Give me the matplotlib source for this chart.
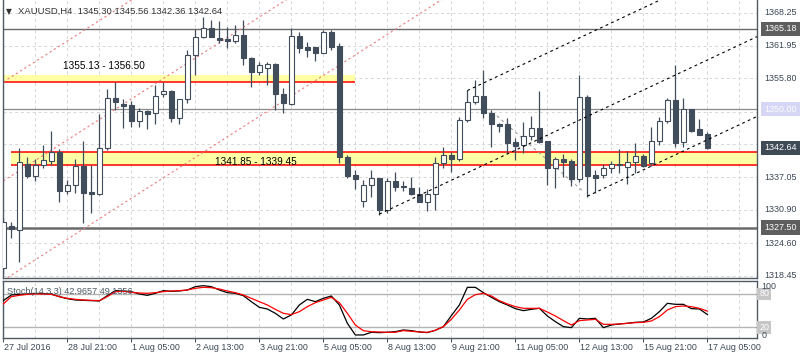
import matplotlib
matplotlib.use('Agg')
import matplotlib.pyplot as plt
from matplotlib.transforms import blended_transform_factory as btf

plt.rcParams['font.family'] = ['Liberation Sans', 'DejaVu Sans']

# ---------------- data ----------------
opens = [1319.9, 1327.8, 1327.1, 1339.5, 1337.4, 1339.4, 1340.2, 1341.8, 1334.5, 1335.7,
         1339.2, 1334.3, 1333.9, 1342.55, 1352.0, 1350.95, 1350.8, 1347.8, 1349.6, 1349.2,
         1352.85, 1353.5, 1348.3, 1351.85, 1360.2, 1363.7, 1365.3, 1363.4, 1363.3, 1362.95,
         1364.0, 1359.6, 1357.1, 1357.8, 1358.5, 1352.85, 1350.95, 1363.8, 1361.7, 1361.7,
         1360.7, 1364.5, 1361.9, 1341.0, 1337.5, 1332.6, 1335.6, 1336.9, 1330.9, 1336.4,
         1335.4, 1335.0, 1334.0, 1332.45, 1333.85, 1339.7, 1341.3, 1340.6, 1347.9, 1351.3,
         1352.5, 1349.2, 1347.2, 1347.2, 1343.7, 1343.2, 1344.95, 1346.35, 1343.9, 1338.8,
         1340.5, 1340.15, 1336.7, 1352.2, 1337.5, 1337.5, 1338.8, 1339.4, 1339.1, 1339.9,
         1341.2, 1339.7, 1343.95, 1347.75, 1351.65, 1343.7, 1350.0, 1346.15, 1345.30]
highs = [1329.4, 1328.6, 1342.7, 1340.9, 1340.5, 1343.2, 1345.85, 1342.4, 1336.55, 1340.5,
         1343.95, 1339.4, 1349.0, 1353.7, 1355.2, 1351.85, 1351.6, 1350.15, 1349.8, 1354.55,
         1355.2, 1353.6, 1351.95, 1361.2, 1365.1, 1367.5, 1366.9, 1366.7, 1365.5, 1365.9,
         1366.9, 1359.9, 1359.0, 1359.0, 1358.8, 1353.9, 1365.3, 1364.65, 1362.75, 1361.8,
         1364.95, 1364.95, 1362.6, 1341.3, 1338.45, 1336.55, 1338.45, 1336.9, 1336.9, 1338.1,
         1336.4, 1337.15, 1335.3, 1334.8, 1341.0, 1342.85, 1341.9, 1348.4, 1353.6, 1355.5,
         1357.4, 1349.8, 1347.3, 1348.25, 1344.45, 1347.6, 1348.65, 1353.5, 1343.9, 1341.0,
         1341.5, 1340.5, 1356.45, 1352.65, 1338.45, 1339.6, 1340.15, 1342.4, 1342.0, 1343.55,
         1341.45, 1346.65, 1348.4, 1352.0, 1358.35, 1352.15, 1350.0, 1348.05, 1345.56]
lows = [1318.8, 1325.6, 1321.0, 1336.9, 1336.4, 1338.8, 1339.4, 1332.45, 1333.9, 1334.1,
        1328.5, 1330.3, 1333.7, 1342.25, 1349.8, 1346.35, 1346.65, 1346.65, 1346.2, 1347.2,
        1352.35, 1347.6, 1347.2, 1351.2, 1356.45, 1363.4, 1363.6, 1362.45, 1361.5, 1362.6,
        1358.3, 1354.2, 1356.45, 1354.55, 1349.8, 1349.2, 1350.8, 1360.55, 1359.9, 1359.15,
        1360.55, 1361.2, 1339.85, 1336.9, 1334.8, 1331.4, 1333.4, 1329.9, 1330.4, 1334.5,
        1334.5, 1333.65, 1332.45, 1330.6, 1330.9, 1338.8, 1338.1, 1340.1, 1347.6, 1350.95,
        1348.3, 1342.9, 1345.7, 1341.7, 1340.35, 1341.7, 1344.15, 1343.5, 1335.6, 1335.0,
        1337.2, 1335.4, 1336.25, 1333.4, 1334.15, 1336.9, 1337.95, 1337.95, 1335.75, 1337.95,
        1339.1, 1339.2, 1343.2, 1347.3, 1342.75, 1342.75, 1345.7, 1345.1, 1342.36]
closes = [1328.6, 1327.2, 1339.9, 1337.4, 1339.4, 1340.35, 1341.8, 1334.5, 1335.7, 1339.2,
          1334.1, 1333.9, 1342.55, 1352.0, 1351.4, 1350.6, 1347.8, 1349.6, 1349.0, 1352.5,
          1353.5, 1348.3, 1351.85, 1360.24, 1363.6, 1365.3, 1363.7, 1363.1, 1362.95, 1364.0,
          1359.6, 1357.1, 1358.3, 1358.5, 1352.85, 1351.2, 1363.8, 1361.5, 1361.2, 1360.7,
          1364.5, 1361.8, 1341.0, 1337.4, 1336.7, 1335.6, 1336.9, 1330.9, 1336.4, 1335.3,
          1335.3, 1333.9, 1332.45, 1333.9, 1339.7, 1341.3, 1340.5, 1347.9, 1351.4, 1352.5,
          1349.2, 1347.1, 1346.7, 1343.5, 1343.05, 1344.95, 1346.35, 1343.8, 1338.8, 1340.5,
          1340.05, 1336.7, 1352.2, 1337.4, 1336.9, 1338.8, 1339.55, 1339.55, 1339.9, 1341.2,
          1339.3, 1343.95, 1347.75, 1351.65, 1343.5, 1349.95, 1345.9, 1345.1, 1342.64]

stoch_k = [68, 78.2, 79.4, 80, 81.2, 80.6, 80, 75.2, 71.6, 69.2,
           68.6, 68, 67.4, 77, 86, 85.4, 84.2, 80, 77.6, 81.2,
           86, 84.8, 85.4, 87.2, 93.2, 95, 93.2, 87.2, 82.4, 81.2,
           77, 66.2, 56, 53, 45.2, 35, 42.2, 60.2, 70.4, 66.2,
           72.2, 76.4, 60.2, 27.2, 6.2, 6.2, 11, 10.4, 11, 12.2,
           15.2, 14, 11.6, 10.4, 14.6, 21.2, 41, 60.2, 92, 92,
           82.4, 74, 66.2, 60.2, 53.6, 50, 52.4, 54.2, 40.4, 30.2,
           21.2, 19.4, 36.2, 35, 36.2, 19.4, 24.2, 26, 27.2, 29,
           29.6, 36.2, 48.2, 63.2, 61.4, 61.4, 53.6, 53, 42.9657]
stoch_d = [62, 75.2, 77.6, 79.4, 80, 80, 79.4, 75.2, 72.2, 70.4,
           69.2, 68.6, 68, 75.2, 84.2, 84.8, 83, 81.8, 81.2, 82.4,
           84.2, 85.4, 86, 87.2, 90.2, 92, 91.4, 89, 85.4, 82.4,
           78.2, 72.2, 66.2, 60.2, 52.4, 45.2, 42.8, 48.2, 57.2, 64.4,
           69.2, 74, 64.4, 45.2, 24.2, 14, 12, 11.6, 11, 11,
           14, 12.8, 11.6, 11, 14.6, 21.2, 34.4, 51.2, 70.4, 78.8,
           81.2, 76.4, 68, 62, 57.2, 54.2, 54.2, 54.2, 47.6, 40.4,
           32, 24.2, 32, 33.2, 34.4, 25.4, 25.4, 26, 27.2, 28.4,
           29, 31.4, 39.2, 51.2, 57.2, 58.4, 57.2, 54.2, 49.1356]

time_labels = ['27 Jul 2016', '28 Jul 21:00', '1 Aug 05:00', '2 Aug 13:00', '3 Aug 21:00',
               '5 Aug 05:00', '8 Aug 13:00', '9 Aug 21:00', '11 Aug 05:00', '12 Aug 13:00',
               '15 Aug 21:00', '17 Aug 05:00']
# price grid levels; the two hidden under the marker boxes are not labelled
price_ticks = [1368.25, 1361.95, 1355.80, 1349.50, 1343.35, 1337.05, 1330.90, 1324.60, 1318.45]
price_labels = ['1368.25', '1361.95', '1355.80', '', '', '1337.05', '1330.90', '1324.60', '1318.45']

# horizontal levels
level_dark = [1365.18, 1327.50]
level_light = 1350.00
last_price = 1342.64
zone_low = (1339.45, 1341.85)
zone_high = (1355.13, 1356.50)
zone_high_end = 44
zone_low_start = 1

# trend-line anchors (bar index, price)
red_channel = [((0, 1355.12), (44, 1397.80)),
               ((0, 1336.38), (44, 1379.06)),
               ((0, 1317.57), (44, 1360.25))]
black_channel = [((58, 1353.5), (88, 1374.86)),
                 ((47, 1330.1), (88, 1359.29)),
                 ((73, 1333.5), (88, 1344.18))]
gray_line = ((61.7, 1348.7), (72.5, 1334.35))

# ---------------- figure ----------------
W, H = 800, 360
fig = plt.figure(figsize=(8, 3.6), dpi=100)
fig.patch.set_facecolor('white')

axl, axr = 2.5, 757.0
ax = fig.add_axes([axl / W, 1 - 278 / H, (axr - axl) / W, 278 / H])
ax2 = fig.add_axes([axl / W, 1 - 338.3 / H, (axr - axl) / W, 57.3 / H])

n = len(opens)
xmin, xmax = -0.1, 94.2
frame_col = '#4f5964'
grid_col = '#d6d6d6'
candle_col = '#414d5a'
text_col = '#3a4654'

for a in (ax, ax2):
    a.set_xlim(xmin, xmax)
    a.set_yticks([])
    for s in a.spines.values():
        s.set_color(frame_col)
        s.set_linewidth(1.0)
    for gx in range(0, 96, 4):
        a.axvline(gx, color=grid_col, lw=0.7, ls=(0, (3, 3)), zorder=0)

ax.set_ylim(1318.0, 1370.65)
ax.spines['top'].set_visible(False)
ax.set_xticks([])

for p in price_ticks:
    ax.axhline(p, color=grid_col, lw=0.7, ls=(0, (3, 3)), zorder=0)

# zones
ax.fill_between([zone_low_start, xmax + 5], zone_low[0], zone_low[1], color='#ffffa6', zorder=1, lw=0)
ax.hlines(list(zone_low), zone_low_start, xmax + 5, color='#ff0000', lw=1.1, zorder=2)
ax.fill_between([xmin, zone_high_end], zone_high[0], zone_high[1], color='#ffffa6', zorder=1, lw=0)
ax.hlines([zone_high[0]], xmin, zone_high_end, color='#ff0000', lw=1.1, zorder=2)
ax.text(7.4, zone_high[1] + 1.7, '1355.13 - 1356.50', fontsize=7.2, color='black', va='center', zorder=6)
ax.text(26.5, zone_low[0] + 0.55, '1341.85 - 1339.45', fontsize=7.2, color='black', va='center', zorder=6)

# horizontal levels
ax.axhline(level_dark[0], color='#6a6a6a', lw=1.0, zorder=2)
ax.axhline(level_dark[1], color='#6a6a6a', lw=1.8, zorder=2)
ax.axhline(level_light, color='#8a8a8a', lw=0.9, zorder=2)

# trend lines
for (x0, y0), (x1, y1) in red_channel:
    s = (y1 - y0) / (x1 - x0)
    ax.plot([x0, 110], [y0, y0 + s * (110 - x0)], color='#ec7b7b', lw=0.8, ls=(0, (2, 2.5)), zorder=2.5)
for (x0, y0), (x1, y1) in black_channel:
    s = (y1 - y0) / (x1 - x0)
    ax.plot([x0, 110], [y0, y0 + s * (110 - x0)], color='black', lw=0.8, ls=(0, (2.5, 3)), zorder=4)
ax.plot([gray_line[0][0], gray_line[1][0]], [gray_line[0][1], gray_line[1][1]],
        color='#9a9a9a', lw=0.8, ls=(0, (2.5, 3)), zorder=2.5)

# candles
idx = list(range(n))
ax.vlines(idx, lows, highs, color=candle_col, lw=0.9, zorder=3)
bottoms = [min(o, c) for o, c in zip(opens, closes)]
heights = [max(abs(c - o), 0.12) for o, c in zip(opens, closes)]
faces = ['white' if c >= o else candle_col for o, c in zip(opens, closes)]
ax.bar(idx, heights, bottom=bottoms, width=0.62, color=faces, edgecolor=candle_col, lw=0.8, zorder=3.5)

# right price axis labels
tr = btf(ax.transAxes, ax.transData)
for p, lab in zip(price_ticks, price_labels):
    if lab:
        ax.text(1.0095, p, lab, transform=tr, ha='left', va='center', fontsize=6.4,
                color=text_col, clip_on=False, zorder=5)
boxes = [(level_dark[0], '#5e5e5e'), (level_dark[1], '#5e5e5e'),
         (level_light, '#d6d6f6'), (last_price, '#3e4a56')]
for p, fc in boxes:
    ax.text(1.0095, p, f'{p:.2f}', transform=tr, ha='left', va='center', fontsize=6.4,
            color='white', clip_on=False, zorder=8,
            bbox=dict(boxstyle='square,pad=0.32', fc=fc, ec='none'))

# title
ax.text(0.004, 0.958, '\u25bc', transform=ax.transAxes, fontsize=5.5, color='#333333',
        va='center', ha='left', family=['DejaVu Sans'], zorder=7)
ax.text(0.021, 0.958, 'XAUUSD,H4  1345.30 1345.56 1342.36 1342.64', transform=ax.transAxes,
        fontsize=6.8, color='#333333', va='center', ha='left', zorder=7)

# ---------------- stochastic ----------------
ax2.set_ylim(0.2, 103.4)
ax2.axhline(80, color='#b4b4b4', lw=1.0, zorder=1)
ax2.axhline(20, color='#b4b4b4', lw=1.0, zorder=1)
ax2.plot(idx, stoch_d, color='#ff0000', lw=0.9, zorder=3)
ax2.plot(idx, stoch_k, color='black', lw=0.9, zorder=2.9)
ax2.text(0.006, 0.82, 'Stoch(14,3,3) 42.9657 49.1356', transform=ax2.transAxes, fontsize=6.6,
         color='#4d5a66', va='center', ha='left', zorder=5)

tr2 = btf(ax2.transAxes, ax2.transData)
ax2.text(1.003, 80, '80', transform=tr2, ha='left', va='center', fontsize=6.4, color='white',
         clip_on=False, bbox=dict(boxstyle='square,pad=0.2', fc='#c6c6c6', ec='none'))
ax2.text(1.003, 20, '20', transform=tr2, ha='left', va='center', fontsize=6.4, color='white',
         clip_on=False, bbox=dict(boxstyle='square,pad=0.2', fc='#c6c6c6', ec='none'))
ax2.text(1.006, 94, '100', transform=tr2, ha='left', va='center', fontsize=6.4, color=text_col,
         clip_on=False, zorder=6)
ax2.text(1.006, 6, '0', transform=tr2, ha='left', va='center', fontsize=6.4, color=text_col,
         clip_on=False, zorder=6)

tick_pos = list(range(0, n, 8))
ax2.set_xticks(tick_pos)
ax2.tick_params(axis='x', direction='out', length=3, width=0.8, color=frame_col, labelbottom=False)
trx = btf(ax2.transData, ax2.transAxes)
for tp, lab in zip(tick_pos, time_labels):
    ax2.text(tp + 0.1, -0.165, lab, transform=trx, ha='left', va='center', fontsize=6.4,
             color=text_col, clip_on=False)

fig.savefig('out.png', dpi=100, facecolor='white')
